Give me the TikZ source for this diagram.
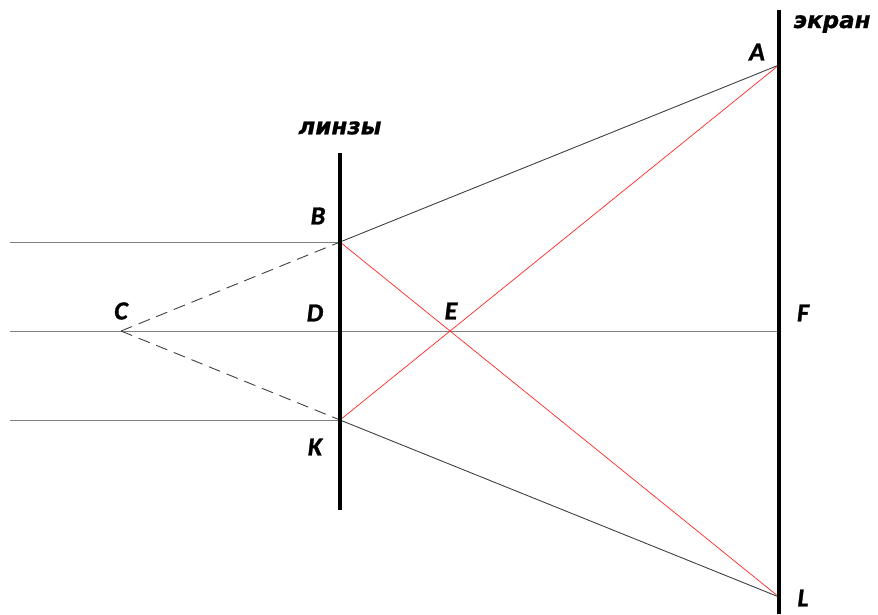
\documentclass[tikz,border=0pt]{standalone}
\usepackage{fontspec}
\setmainfont{Carlito}[BoldItalicFeatures={FakeBold=1.2}]
\newfontfamily\cyrfont{DejaVu Sans}[BoldItalicFeatures={FakeBold=0.8}]
\begin{document}
\begin{tikzpicture}[x=1pt,y=-1pt,
  thinline/.style={line width=0.9pt, black!75},
  grayline/.style={line width=1pt, black!50},
  redline/.style={line width=0.7pt, red!85},
  dashline/.style={line width=0.9pt, black!75, dash pattern=on 12pt off 7pt},
  thickline/.style={line width=4pt, black},
  lbl/.style={font=\bfseries\itshape\fontsize{26}{26}\selectfont, inner sep=0pt},
  cyrlbl/.style={font=\cyrfont\bfseries\itshape\fontsize{23}{23}\selectfont, inner sep=0pt}]
\useasboundingbox (0,0) rectangle (878,614);
% points
\coordinate (A) at (779,65);
\coordinate (L) at (779,597);
\coordinate (F) at (779,331);
\coordinate (B) at (340,242);
\coordinate (D) at (340,331);
\coordinate (K) at (340,420);
\coordinate (C) at (121,331);
\coordinate (S1) at (10,242);
\coordinate (S2) at (10,331);
\coordinate (S3) at (10,420);
\coordinate (ST) at (779,10);
\coordinate (SB) at (779,614);
\coordinate (LT) at (340,153);
\coordinate (LB) at (340,510);
% horizontal rays
\draw[grayline] (S1) -- (B);
\draw[grayline] (S2) -- (F);
\draw[grayline] (S3) -- (K);
% dashed
\draw[dashline] (C) -- (B);
\draw[dashline] (C) -- (K);
% outgoing rays
\draw[thinline] (B) -- (A);
\draw[thinline] (K) -- (L);
% red
\draw[redline] (B) -- (L);
\draw[redline] (K) -- (A);
% lens and screen
\draw[thickline] (LT) -- (LB);
\draw[thickline] (ST) -- (SB);
% labels
\node[lbl] (lA) at (757,52) {A};
\node[lbl] (lB) at (318,216) {B};
\node[lbl] (lC) at (121,311) {C};
\node[lbl] (lD) at (315,313) {D};
\node[lbl] (lE) at (451,311) {E};
\node[lbl] (lF) at (803,313) {F};
\node[lbl] (lK) at (315,447) {K};
\node[lbl] (lL) at (803,598) {L};
\node[cyrlbl] (screen) at (832,24) {экран};
\node[cyrlbl] (lens) at (340,128) {линзы};
\end{tikzpicture}
\end{document}
